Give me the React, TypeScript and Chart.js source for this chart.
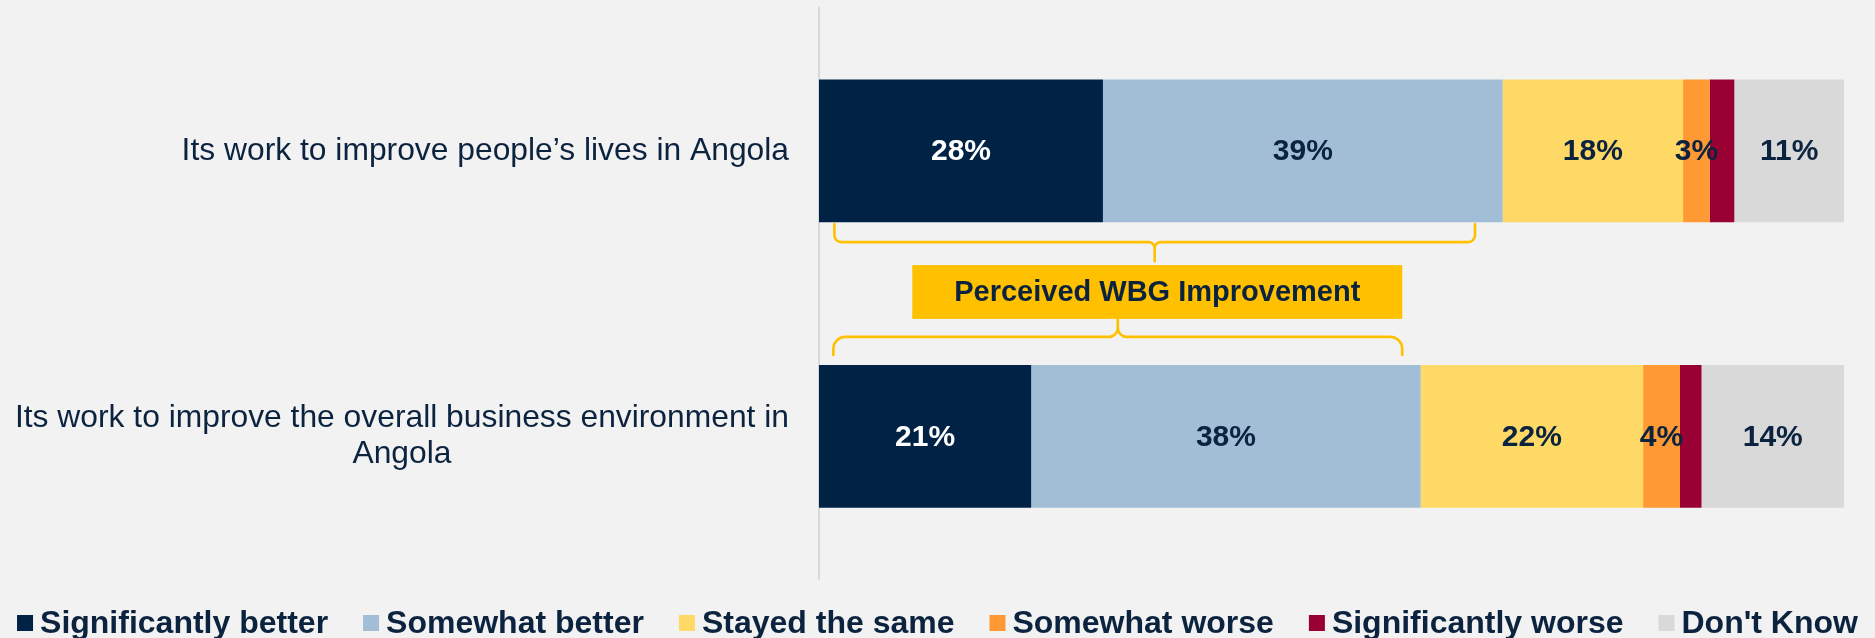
import { useEffect, useRef } from 'react';
import { Chart, registerables } from 'chart.js';

Chart.register(...registerables);

// ---------- data ----------
const categories: string[][] = [
  ['Its work to improve people’s lives in Angola'],
  ['Its work to improve the overall business environment in', 'Angola'],
];
const seriesNames = [
  'Significantly better',
  'Somewhat better',
  'Stayed the same',
  'Somewhat worse',
  'Significantly worse',
  "Don't Know",
];
const significantlyBetter = [27.7, 20.7];
const somewhatBetter = [39.0, 38.0];
const stayedTheSame = [17.6, 21.7];
const somewhatWorse = [2.6, 3.6];
const significantlyWorse = [2.4, 2.1];
const dontKnow = [10.7, 13.9];
const seriesValues = [significantlyBetter, somewhatBetter, stayedTheSame, somewhatWorse, significantlyWorse, dontKnow];
const showValueLabel = [true, true, true, true, false, true];
const annotationText = 'Perceived WBG Improvement';

// ---------- styles ----------
const TEXT = '#0c2340';
const BG = '#f2f2f2';
const GOLD = '#ffc000';
const seriesColors = ['#002244', '#a2bdd6', '#fed966', '#ff9933', '#990033', '#d9d9d9'];
const valueLabelColors = ['#ffffff', TEXT, TEXT, TEXT, TEXT, TEXT];
const FONT = '"Liberation Sans", Arial, Helvetica, sans-serif';
const NARROW = '"Liberation Sans Narrow"';

const W = 1875;
const H = 638;

function valueFont(ctx: CanvasRenderingContext2D): string {
  ctx.save();
  ctx.font = 'bold 34px monospace';
  const a = ctx.measureText('28% 39% 11%').width;
  ctx.font = `bold 34px ${NARROW}, monospace`;
  const b = ctx.measureText('28% 39% 11%').width;
  ctx.restore();
  return Math.abs(a - b) > 1 ? `bold 34px ${NARROW}, ${FONT}` : `bold 30px ${FONT}`;
}

const backgroundPlugin = {
  id: 'bg',
  beforeDraw(chart: any) {
    const { ctx } = chart;
    ctx.save();
    ctx.fillStyle = BG;
    ctx.fillRect(0, 0, chart.width, chart.height);
    ctx.restore();
  },
};

const categoryLabelPlugin = {
  id: 'catLabels',
  afterDraw(chart: any) {
    const { ctx } = chart;
    const y = chart.scales.y;
    const rightX = chart.chartArea.left - 30;
    const lineH = 36;
    ctx.save();
    ctx.font = `31.8px ${FONT}`;
    ctx.fillStyle = TEXT;
    ctx.textBaseline = 'middle';
    ctx.textAlign = 'center';
    categories.forEach((lines, i) => {
      const cy = y.getPixelForValue(i);
      const widest = Math.max(...lines.map((l) => ctx.measureText(l).width));
      const cx = rightX - widest / 2;
      const startY = cy - ((lines.length - 1) * lineH) / 2;
      lines.forEach((l, j) => ctx.fillText(l, cx, startY + j * lineH));
    });
    ctx.restore();
  },
};

const valueLabelPlugin = {
  id: 'valueLabels',
  afterDatasetsDraw(chart: any) {
    const { ctx } = chart;
    const font = valueFont(ctx);
    ctx.save();
    ctx.font = font;
    ctx.textAlign = 'center';
    ctx.textBaseline = 'middle';
    chart.data.datasets.forEach((ds: any, di: number) => {
      if (!showValueLabel[di]) return;
      const meta = chart.getDatasetMeta(di);
      meta.data.forEach((bar: any, i: number) => {
        const v = ds.data[i];
        const x = (bar.x + bar.base) / 2;
        ctx.fillStyle = valueLabelColors[di];
        ctx.fillText(`${Math.round(v)}%`, x, bar.y + 1);
      });
    });
    ctx.restore();
  },
};

const annotationPlugin = {
  id: 'braces',
  afterDatasetsDraw(chart: any) {
    const { ctx } = chart;
    const xs = chart.scales.x;
    const meta = chart.getDatasetMeta(0);
    const b1 = meta.data[0];
    const b2 = meta.data[1];
    const bar1Bottom = b1.y + b1.height / 2;
    const bar2Top = b2.y - b2.height / 2;

    // upper brace
    const uL = xs.getPixelForValue(1.5);
    const uR = xs.getPixelForValue(64.0);
    const uC = (uL + uR) / 2;
    const uTip = bar1Bottom + 2;
    const uLine = bar1Bottom + 20;
    const uStem = bar1Bottom + 39;
    const r1 = 7;
    const rc = 6;

    // box
    const bxL = xs.getPixelForValue(9.1);
    const bxR = xs.getPixelForValue(56.9);
    const bxT = bar1Bottom + 43;
    const bxB = bar2Top - 46;

    // lower brace
    const lL = xs.getPixelForValue(1.4);
    const lR = xs.getPixelForValue(56.9);
    const lC = (lL + lR) / 2;
    const lTip = bar2Top - 10;
    const lLine = bar2Top - 28;
    const lStem = bxB;
    const r2 = 12;
    const rc2 = 9;

    ctx.save();
    ctx.strokeStyle = GOLD;
    ctx.lineWidth = 2.6;
    ctx.lineCap = 'round';
    ctx.lineJoin = 'round';

    ctx.beginPath();
    ctx.moveTo(uL, uTip);
    ctx.arcTo(uL, uLine, uL + r1, uLine, r1);
    ctx.arcTo(uC, uLine, uC, uLine + rc, rc);
    ctx.lineTo(uC, uStem);
    ctx.moveTo(uC, uLine + rc);
    ctx.arcTo(uC, uLine, uC + rc, uLine, rc);
    ctx.arcTo(uR, uLine, uR, uTip, r1);
    ctx.lineTo(uR, uTip);
    ctx.stroke();

    ctx.beginPath();
    ctx.moveTo(lL, lTip);
    ctx.arcTo(lL, lLine, lL + r2, lLine, r2);
    ctx.arcTo(lC, lLine, lC, lLine - rc2, rc2);
    ctx.lineTo(lC, lStem);
    ctx.moveTo(lC, lLine - rc2);
    ctx.arcTo(lC, lLine, lC + rc2, lLine, rc2);
    ctx.arcTo(lR, lLine, lR, lTip, r2);
    ctx.lineTo(lR, lTip);
    ctx.stroke();

    ctx.fillStyle = GOLD;
    ctx.fillRect(bxL, bxT, bxR - bxL, bxB - bxT);
    ctx.fillStyle = TEXT;
    ctx.font = `bold 29px ${FONT}`;
    ctx.textAlign = 'center';
    ctx.textBaseline = 'middle';
    ctx.fillText(annotationText, (bxL + bxR) / 2, (bxT + bxB) / 2 + 1);
    ctx.restore();
  },
};

const legendPlugin = {
  id: 'customLegend',
  afterDraw(chart: any) {
    const { ctx } = chart;
    const box = 16;
    const gapBoxText = 7;
    const gapItems = 35;
    const baseline = 633;
    ctx.save();
    ctx.font = `bold 32px ${FONT}`;
    const items = chart.data.datasets.map((ds: any) => ({
      text: ds.label as string,
      color: ds.backgroundColor as string,
      w: ctx.measureText(ds.label).width,
    }));
    const total =
      items.reduce((s: number, it: any) => s + box + gapBoxText + it.w, 0) + gapItems * (items.length - 1);
    let x = chart.width / 2 - total / 2;
    ctx.textBaseline = 'alphabetic';
    ctx.textAlign = 'left';
    items.forEach((it: any) => {
      ctx.fillStyle = it.color;
      ctx.fillRect(x, baseline - box - 2, box, box);
      ctx.fillStyle = TEXT;
      ctx.fillText(it.text, x + box + gapBoxText, baseline);
      x += box + gapBoxText + it.w + gapItems;
    });
    ctx.restore();
  },
};

export default function App() {
  const ref = useRef<HTMLCanvasElement | null>(null);

  useEffect(() => {
    document.body.style.margin = '0';
    document.body.style.background = BG;
    if (!ref.current) return;
    const chart = new Chart(ref.current, {
      type: 'bar',
      data: {
        labels: categories.map((c) => c.join(' ')),
        datasets: seriesNames.map((name, i) => ({
          label: name,
          data: seriesValues[i],
          backgroundColor: seriesColors[i],
          borderWidth: 0,
          barPercentage: 0.5,
          categoryPercentage: 1.0,
        })),
      },
      options: {
        indexAxis: 'y',
        responsive: false,
        animation: false,
        devicePixelRatio: 1,
        layout: { padding: { left: 819, right: 31, top: 8, bottom: 59 } },
        plugins: {
          legend: { display: false },
          tooltip: { enabled: false },
          title: { display: false },
        },
        scales: {
          x: {
            stacked: true,
            min: 0,
            max: 100,
            display: false,
          },
          y: {
            stacked: true,
            ticks: { display: false },
            grid: { display: false, drawTicks: false },
            border: { display: true, color: '#d9d9d9', width: 2 },
            afterFit: (scale: any) => {
              scale.width = 0;
            },
          },
        },
      },
      plugins: [backgroundPlugin, categoryLabelPlugin, valueLabelPlugin, annotationPlugin, legendPlugin],
    });
    return () => chart.destroy();
  }, []);

  return (
    <div style={{ width: W, height: H, background: BG }}>
      <canvas ref={ref} width={W} height={H} style={{ display: 'block', width: W, height: H }} />
    </div>
  );
}
